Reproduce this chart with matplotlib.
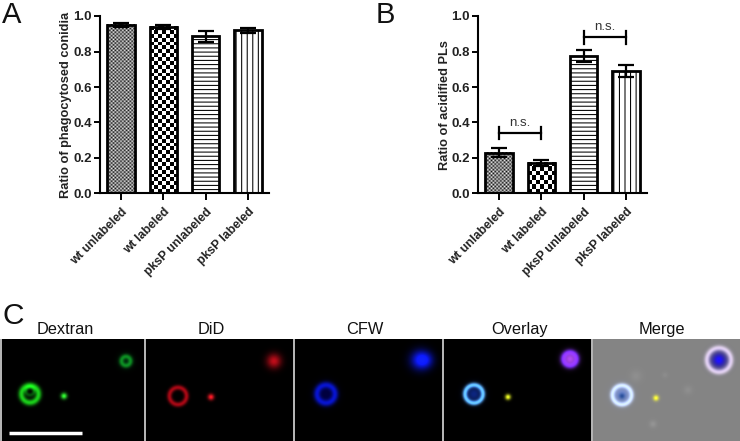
import numpy as np
import matplotlib
matplotlib.use("Agg")
import matplotlib.pyplot as plt
from matplotlib.transforms import ScaledTranslation

plt.rcParams["font.family"] = ["Liberation Sans", "DejaVu Sans"]
plt.rcParams["hatch.color"] = "black"
plt.rcParams["hatch.linewidth"] = 0.75

W, H = 740, 441

categories = ["wt unlabeled", "wt labeled", "pksP unlabeled", "pksP labeled"]
phago_values = [0.95, 0.94, 0.885, 0.92]
phago_errors = [0.012, 0.011, 0.03, 0.013]
acid_values = [0.23, 0.17, 0.775, 0.69]
acid_errors = [0.027, 0.017, 0.035, 0.033]
y_ticks = [0.0, 0.2, 0.4, 0.6, 0.8, 1.0]
brackets_x = [(0, 1), (2, 3)]
brackets_y = [0.34, 0.88]

panel_titles = ["Dextran", "DiD", "CFW", "Overlay", "Merge"]
panel_left = [2, 146, 295, 444, 593]
panel_right = [144, 293, 442, 591, 740]
panel_title_x = [65, 211, 365, 520, 662]
panel_bg = [0.0, 0.0, 0.0, 0.0, 0.52]

# blobs per panel, in picture pixels: x, y, ring radius, spread, rgb
dextran_blobs = [
    (30, 394, 8.5, 2.2, (0.1, 0.8, 0.1)),
    (30, 391, 4, 1.5, (0.02, 0.3, 0.04)),
    (64, 396, 0, 2.2, (0.2, 1.0, 0.2)),
    (126, 361, 4.5, 1.8, (0.05, 0.45, 0.1)),
    (126, 361, 0, 5, (0.0, 0.15, 0.05)),
]
did_blobs = [
    (178, 396, 8.5, 1.8, (0.65, 0.03, 0.08)),
    (211, 397, 0, 2.2, (1.0, 0.1, 0.15)),
    (274, 361, 0, 5.0, (0.75, 0.05, 0.1)),
]
cfw_blobs = [
    (326, 394, 9, 2.4, (0.03, 0.08, 0.7)),
    (326, 394, 0, 7, (0.0, 0.0, 0.25)),
    (420, 360, 0, 6.5, (0.05, 0.1, 0.95)),
    (426, 360, 0, 5.5, (0.02, 0.05, 0.5)),
]
overlay_blobs = [
    (474, 394, 9, 1.7, (0.4, 0.75, 1.0)),
    (474, 394, 0, 6, (0.05, 0.15, 0.5)),
    (508, 397, 0, 2, (0.95, 1.0, 0.15)),
    (570, 359, 0, 5, (0.7, 0.3, 0.95)),
    (570, 359, 7, 2, (0.3, 0.1, 0.7)),
]
merge_blobs = [
    (622, 395, 9.5, 1.8, (0.36, 0.42, 0.52)),
    (622, 395, 0, 6, (-0.05, 0.05, 0.35)),
    (622, 396, 0, 2.2, (-0.3, -0.25, -0.25)),
    (656, 398, 0, 2, (0.5, 0.5, -0.3)),
    (719, 360, 12, 2.0, (0.42, 0.36, 0.42)),
    (719, 360, 0, 6.0, (-0.5, -0.55, 0.05)),
    (719, 360, 0, 3.2, (0.1, 0.1, 0.5)),
    (665, 375, 0, 2, (0.03, 0.03, 0.03)),
    (653, 424, 0, 2.5, (0.06, 0.06, 0.06)),
    (688, 390, 0, 3, (0.04, 0.04, 0.04)),
    (636, 376, 0, 4, (0.04, 0.04, 0.04)),
]
panel_blobs = [dextran_blobs, did_blobs, cfw_blobs, overlay_blobs, merge_blobs]

scale_bar_x = [9, 82]
scale_bar_y = [433, 433]


def px_axes(fig, left, top, right, bottom):
    return fig.add_axes([left / W, 1 - bottom / H, (right - left) / W, (bottom - top) / H])


def checker(ax, bar, period, interp):
    # checker fill for a bar, period in screen pixels
    x0, x1 = bar.get_x(), bar.get_x() + bar.get_width()
    h = bar.get_height()
    p0 = ax.transData.transform((x0, 0))
    p1 = ax.transData.transform((x1, h))
    nx = max(int(abs(p1[0] - p0[0]) / (period / 2)), 1)
    ny = max(int(abs(p1[1] - p0[1]) / (period / 2)), 1)
    yy, xx = np.indices((ny, nx))
    img = (xx + yy) % 2
    ax.imshow(img, extent=(x0, x1, 0, h), origin="lower", aspect="auto", cmap="gray",
              interpolation=interp, zorder=1)


def draw_bars(ax, values, errors, ylabel, label_x):
    x = np.arange(len(values))
    ax.set_xlim(-0.5, 3.5)
    ax.set_ylim(0, 1.0)
    bars = ax.bar(x, values, width=0.65, facecolor="none", edgecolor="black", linewidth=2.0, zorder=3)
    checker(ax, bars[0], 3.6, "bilinear")
    checker(ax, bars[1], 7.6, "nearest")
    bars[2].set_hatch("-" * 4)
    bars[3].set_hatch("|" * 3)
    ax.errorbar(x, values, yerr=errors, fmt="none", ecolor="black", elinewidth=1.6,
                capsize=6, capthick=1.6, zorder=4)
    ax.set_yticks(y_ticks)
    ax.set_yticklabels([f"{t:.1f}" for t in y_ticks], fontsize=9.5, fontweight="bold", color="#222222")
    ax.set_xticks(x)
    ax.set_xticklabels(categories, rotation=45, ha="right", rotation_mode="anchor",
                       fontsize=8.8, fontweight="bold", color="#222222")
    # nudge the slanted labels left, as in the original
    shift = ScaledTranslation(-3 / 100, 0, ax.figure.dpi_scale_trans)
    for lab in ax.get_xticklabels():
        lab.set_transform(lab.get_transform() + shift)
    ax.set_ylabel(ylabel, fontsize=9.2, fontweight="bold", color="#222222")
    ax.yaxis.set_label_coords(label_x, 0.5)
    ax.tick_params(axis="both", width=1.4, length=4, pad=2)
    ax.tick_params(axis="x", length=5, pad=4)
    ax.spines["top"].set_visible(False)
    ax.spines["right"].set_visible(False)
    ax.spines["left"].set_linewidth(1.5)
    ax.spines["bottom"].set_linewidth(1.5)
    ax.patch.set_alpha(0)


def draw_panel(fig, i):
    left, right = panel_left[i], panel_right[i]
    ax = px_axes(fig, left, 339, right, H)
    xs, ys = np.meshgrid(np.arange(left, right) + 0.5, np.arange(339, H) + 0.5)
    img = np.full(xs.shape + (3,), panel_bg[i])
    for cx, cy, radius, spread, rgb in panel_blobs[i]:
        dist = np.hypot(xs - cx, ys - cy)
        shape = np.exp(-((dist - radius) ** 2) / (2 * spread ** 2))
        img += shape[..., None] * np.array(rgb)
    ax.imshow(np.clip(img, 0, 1), extent=(left, right, H, 339), aspect="auto", interpolation="bilinear")
    ax.set_xticks([])
    ax.set_yticks([])
    for s in ax.spines.values():
        s.set_visible(False)
    return ax


fig = plt.figure(figsize=(W / 100, H / 100), dpi=100, facecolor="white")

ax_a = px_axes(fig, 100, 16, 269, 193.5)
draw_bars(ax_a, phago_values, phago_errors, "Ratio of phagocytosed conidia", -0.166)

ax_b = px_axes(fig, 478, 16, 647, 193.5)
draw_bars(ax_b, acid_values, acid_errors, "Ratio of acidified PLs", -0.159)
for (x0, x1), yb in zip(brackets_x, brackets_y):
    ax_b.plot([x0, x1], [yb, yb], color="black", lw=1.6, zorder=5)
    ax_b.plot([x0, x0], [yb - 0.035, yb + 0.035], color="black", lw=1.6, zorder=5)
    ax_b.plot([x1, x1], [yb - 0.035, yb + 0.035], color="black", lw=1.6, zorder=5)
    ax_b.text((x0 + x1) / 2, yb + 0.025, "n.s.", ha="center", va="bottom", fontsize=9.5, color="#333333")

# thin gray backdrop behind the micrographs
fig.patches.append(plt.Rectangle((0, 0), 1, 102.5 / H, transform=fig.transFigure,
                                 facecolor="#b4b4b4", edgecolor="none", zorder=-1))

for i in range(len(panel_titles)):
    panel_ax = draw_panel(fig, i)
    fig.text(panel_title_x[i] / W, 1 - 334 / H, panel_titles[i], ha="center", va="baseline",
             fontsize=11.8, color="#111111")
    if i == 0:
        panel_ax.plot(scale_bar_x, scale_bar_y, color="white", lw=2.5, solid_capstyle="butt")
        panel_ax.set_xlim(panel_left[0], panel_right[0])
        panel_ax.set_ylim(H, 339)

fig.text(2 / W, 1 - 23 / H, "A", fontsize=21, color="#111111", ha="left", va="baseline")
fig.text(376 / W, 1 - 23 / H, "B", fontsize=21, color="#111111", ha="left", va="baseline")
fig.text(2 / W, 1 - 324 / H, "C", fontsize=21.5, color="#111111", ha="left", va="baseline")

fig.savefig("out.png", dpi=100)
